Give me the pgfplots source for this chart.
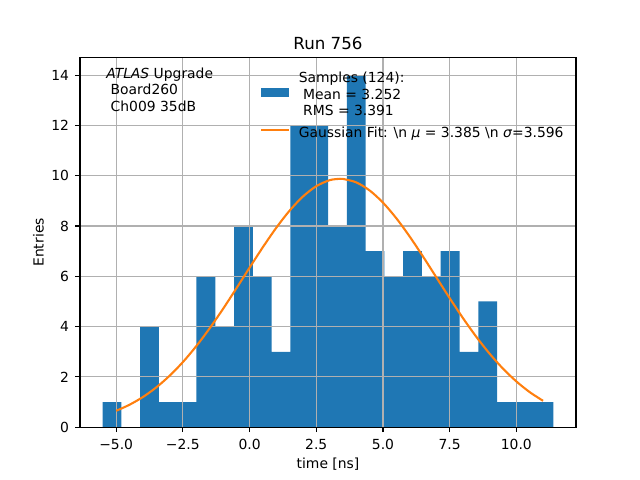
\documentclass[border=0pt]{standalone}
\usepackage{fontspec}
\setmainfont{DejaVu Sans}
\usepackage{pgfplots}
\pgfplotsset{compat=1.18}
\definecolor{mplblue}{HTML}{1F77B4}
\definecolor{mplorange}{HTML}{FF7F0E}
\definecolor{mplgrid}{HTML}{B0B0B0}
\begin{document}
\fontsize{10bp}{12bp}\selectfont
\begin{tikzpicture}
\begin{axis}[
  set layers,
  at={(57.6bp,38.016bp)}, anchor=south west,
  scale only axis, width=357.12bp, height=266.112bp,
  xmin=-6.355, xmax=12.235, ymin=0, ymax=14.7,
  xtick={-5,-2.5,0,2.5,5,7.5,10},
  xticklabels={−5.0,−2.5,0.0,2.5,5.0,7.5,10.0},
  ytick={0,2,4,6,8,10,12,14},
  /pgf/number format/assume math mode=true,
  tick align=outside, tick pos=left,
  major tick length=3.5bp,
  every tick/.style={line width=0.8bp, black},
  axis line style={line width=0.8bp, black},
  grid=major,
  major grid style={line width=0.8bp, mplgrid},
  xticklabel style={inner sep=0pt, anchor=north},
  xticklabel shift=5.2bp,
  yticklabel style={inner sep=0pt, anchor=east},
  yticklabel shift=4.2bp,
  title={Run 756},
  title style={at={(axis description cs:0.5,0.9995)}, anchor=base, inner sep=0pt, font=\fontsize{12bp}{14.4bp}\selectfont},
  xlabel={time [ns]},
  xlabel style={at={(axis description cs:0.5,-0.1105)}, anchor=base, inner sep=0pt},
  ylabel={Entries},
  ylabel style={at={(axis description cs:-0.0735,0.5)}, anchor=base, inner sep=0pt},
  legend style={draw=none, fill=none, at={(axis description cs:0.3629,0.9651)}, anchor=north west,
    inner sep=0pt, row sep=3.6bp, column sep=6.2bp,
    nodes={inner sep=0pt, text depth=}, cells={anchor=west},
    font=\fontsize{10bp}{12bp}\selectfont},
]
\addplot[ybar interval, fill=mplblue, draw=none, on layer=axis background,
  legend image code/.code={\fill[mplblue] (0bp,-0.85bp) rectangle (20bp,5.85bp);}]
  coordinates {
  (-5.510,1) (-4.806,0) (-4.102,4) (-3.397,1) (-2.693,1) (-1.989,6)
  (-1.285,4) (-0.581,8) (0.123,6) (0.828,3) (1.532,12) (2.236,12)
  (2.940,8) (3.644,14) (4.348,7) (5.053,6) (5.757,7) (6.461,6)
  (7.165,7) (7.869,3) (8.573,5) (9.278,1) (9.982,1) (10.686,1)
  (11.390,0)
};
\addlegendentry{\begin{tabular}{@{}l@{}}Samples (124):\\\ Mean = 3.252\\\ RMS = 3.391\end{tabular}}
\addplot[mplorange, line width=1.5bp, smooth,
  legend image code/.code={\draw[mplorange, line width=1.5bp] (0bp,3.1bp) -- (20bp,3.1bp);}]
  coordinates {
  (-5.0,0.652) (-4.5,0.893) (-4.0,1.199) (-3.5,1.580) (-3.0,2.043)
  (-2.5,2.589) (-2.0,3.220) (-1.5,3.927) (-1.0,4.697) (-0.5,5.512)
  (0.0,6.344) (0.5,7.162) (1.0,7.930) (1.5,8.612) (2.0,9.174)
  (2.5,9.585) (3.0,9.824) (3.385,9.880) (3.5,9.875) (4.0,9.737)
  (4.5,9.416) (5.0,8.932) (5.5,8.311) (6.0,7.585) (6.5,6.790)
  (7.0,5.961) (7.5,5.134) (8.0,4.336) (8.5,3.593) (9.0,2.920)
  (9.5,2.327) (10.0,1.820) (10.5,1.395) (11.0,1.050)
};
\addlegendentry{Gaussian Fit: \textbackslash n \textit{μ} = 3.385 \textbackslash n \textit{σ}=3.596\strut}
\node[anchor=base west, inner sep=0pt] at (axis description cs:0.0524,0.944)
  {\begin{tabular}[t]{@{}l@{}}\textit{ATLAS} Upgrade\\\ Board260\\\ Ch009 35dB\end{tabular}};
\end{axis}
\pgfresetboundingbox
\path[use as bounding box] (0,0) rectangle (460.8bp,345.6bp);
\end{tikzpicture}
\end{document}
